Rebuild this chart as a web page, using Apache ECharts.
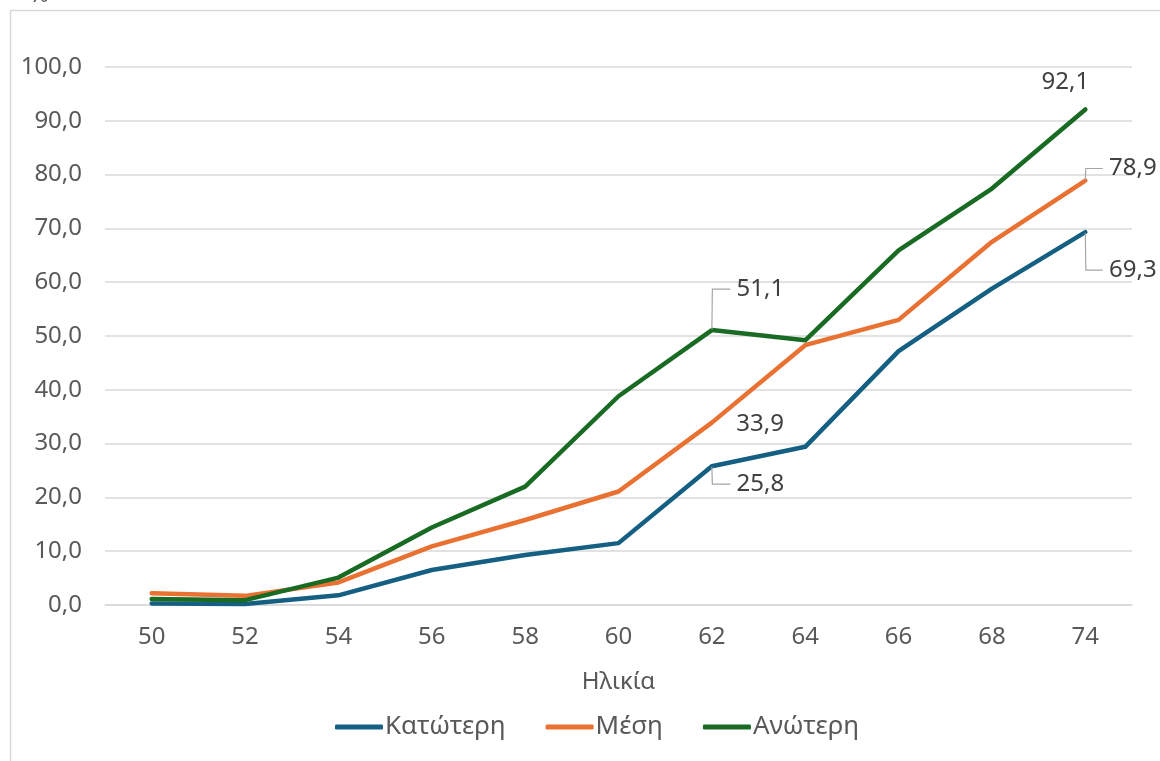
<!DOCTYPE html>
<html><head><meta charset="utf-8">
<script src="https://cdn.jsdelivr.net/npm/echarts@6/dist/echarts.min.js"></script>
<style>html,body{margin:0;padding:0;background:#fff}#c{width:1160px;height:761px}</style>
</head><body><div id="c"></div>
<script>
const categories = ['50','52','54','56','58','60','62','64','66','68','74'];
const seriesNames = ['Κατώτερη','Μέση','Ανώτερη'];
const lower  = [0.3, 0.2, 1.8, 6.5, 9.3, 11.5, 25.8, 29.4, 47.2, 58.8, 69.3];
const middle = [2.2, 1.7, 4.2, 10.9, 15.8, 21.1, 33.9, 48.3, 53.0, 67.5, 78.9];
const upper  = [1.1, 0.9, 5.1, 14.4, 22.0, 38.8, 51.1, 49.2, 65.9, 77.4, 92.1];
const yTicks = [0,10,20,30,40,50,60,70,80,90,100];
const colors = ['#156082','#E97132','#196B24'];

const FONT = 'Noto Sans';
const fmt = v => v.toFixed(1).replace('.', ',');

// label placement per seriesIndex-dataIndex
const labelCfg = {
  '0-6':  {position:'right', distance:18, lead:' ', shift:[0,18], line:true},
  '0-10': {position:'right', distance:17, lead:' ', shift:[0,38], line:true},
  '1-6':  {position:'right', distance:24, lead:'',  shift:[0,2], line:false},
  '1-10': {position:'right', distance:17, lead:' ', shift:[0,-12], line:true},
  '2-6':  {position:'right', distance:18, lead:' ', shift:[0,-41], line:true},
  '2-10': {position:'top',   distance:5,  lead:'',  shift:[-20,-10], line:false}
};

function buildData(arr, si) {
  return arr.map((v, i) => {
    const c = labelCfg[si + '-' + i];
    if (!c) return v;
    return {
      value: v,
      label: {show:true, position:c.position, distance:c.distance,
              formatter: p => c.lead + fmt(p.value), color:'#404040', fontSize:24, fontFamily:FONT},
      labelLine: {show:c.line, length2:c.distance, minTurnAngle:0, lineStyle:{color:'#a6a6a6', width:1.2}}
    };
  });
}

const all = [lower, middle, upper];
const chart = echarts.init(document.getElementById('c'));
chart.setOption({
  animation:false,
  textStyle:{fontFamily:FONT},
  graphic:[{type:'rect', shape:{x:10.5,y:10.5,width:1200,height:800}, style:{fill:'none', stroke:'#d9d9d9', lineWidth:1.5}, silent:true}],
  grid:{left:105, right:28, top:67, bottom:156, containLabel:false, outerBoundsMode:'none'},
  legend:{
    bottom:16, left:330, itemWidth:48, itemHeight:5, itemGap:40, icon:'roundRect',
    textStyle:{color:'#595959', fontSize:26, fontFamily:FONT, padding:[0,0,0,-3]},
    data:seriesNames
  },
  xAxis:{
    type:'category', data:categories, boundaryGap:true,
    name:'Ηλικία', nameLocation:'middle', nameGap:65,
    nameTextStyle:{color:'#595959', fontSize:24, fontFamily:FONT},
    axisLine:{show:true, lineStyle:{color:'#d9d9d9', width:1.5}},
    axisTick:{show:false},
    axisLabel:{color:'#595959', fontSize:24, fontFamily:FONT, margin:20}
  },
  yAxis:{
    type:'value', min:0, max:100, interval:10,
    name:'%', nameLocation:'end', nameGap:60,
    nameTextStyle:{color:'#595959', fontSize:24, fontFamily:FONT, align:'right', padding:[0,56,0,0]},
    axisLine:{show:false}, axisTick:{show:false},
    splitLine:{lineStyle:{color:'#d9d9d9', width:1.5}},
    axisLabel:{color:'#595959', fontSize:24, fontFamily:FONT, margin:23, formatter: v => fmt(v)}
  },
  series: all.map((arr, si) => ({
    name: seriesNames[si], type:'line', data: buildData(arr, si),
    symbol:'circle', symbolSize:1, showSymbol:true,
    itemStyle:{color:colors[si]},
    lineStyle:{color:colors[si], width:4.5, cap:'round', join:'round'},
    label:{show:false},
    labelLayout: function (p) {
      const c = labelCfg[si + '-' + p.dataIndex];
      return c ? {dx:c.shift[0], dy:c.shift[1]} : {};
    },
    z: 2 + si
  })),
  color: colors
});
</script></body></html>
